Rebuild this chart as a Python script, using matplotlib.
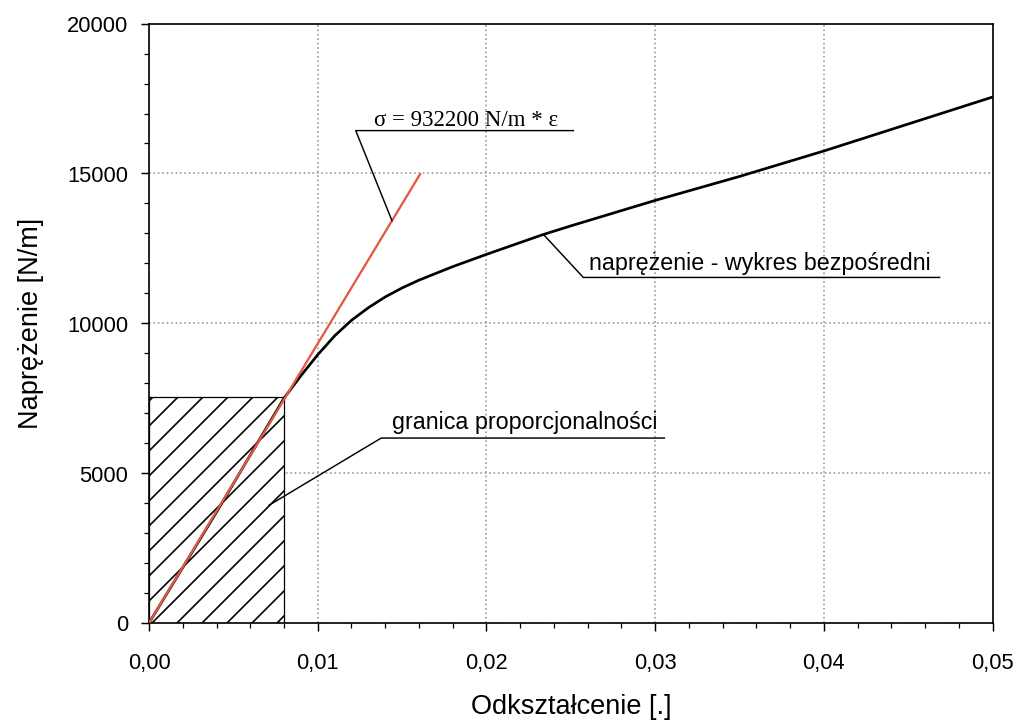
import matplotlib
matplotlib.use("Agg")
import matplotlib.pyplot as plt
from matplotlib.patches import Rectangle
from matplotlib.ticker import MultipleLocator, FuncFormatter

# measured stress-strain curve (direct plot)
strain = [0.0, 0.002, 0.004, 0.006, 0.008, 0.009, 0.010, 0.011, 0.012, 0.013,
          0.014, 0.015, 0.016, 0.018, 0.020, 0.0233, 0.025, 0.030, 0.035,
          0.040, 0.045, 0.050]
stress = [0, 1850, 3700, 5600, 7500, 8250, 8950, 9580, 10100, 10520,
          10880, 11180, 11440, 11890, 12300, 12950, 13250, 14100, 14900,
          15750, 16650, 17550]

# linear fit  sigma = E * eps
E_MOD = 932200
fit_strain = [0.0, 0.0161]
fit_stress = [E_MOD * e for e in fit_strain]

# limit of proportionality
prop_strain = 0.008
prop_stress = 7550

DPI = 150
plt.rcParams['font.family'] = ['Liberation Sans', 'DejaVu Sans']
plt.rcParams['hatch.linewidth'] = 0.8

fig = plt.figure(figsize=(1019.4 / DPI, 723.4 / DPI), dpi=DPI)
ax = fig.add_axes([0.1462, 0.1383, 0.8275, 0.8285])

ax.set_xlim(0, 0.05)
ax.set_ylim(0, 20000)

# hatched region below the proportionality limit
ax.add_patch(Rectangle((0, 0), prop_strain, prop_stress, facecolor='white',
                       edgecolor='black', hatch='//', linewidth=0.6, zorder=2))

ax.plot(strain, stress, color='black', lw=1.3, zorder=3)
ax.plot(fit_strain, fit_stress, color='#e25a43', lw=1.1, zorder=4,
        solid_capstyle='butt')

# callouts: leader point -> underline start -> underline end
lead_kw = dict(color='black', lw=0.7, zorder=5)

ax.plot([0.0144, 0.01225, 0.02515], [E_MOD * 0.0144, 16430, 16430], **lead_kw)
ax.text(0.0188, 16600, 'σ = 932200 N/m * ε', ha='center', va='baseline',
        fontsize=11, family=['Liberation Serif', 'DejaVu Serif'])

ax.plot([0.0234, 0.02574, 0.04686], [12950, 11530, 11530], **lead_kw)
ax.text(0.0261, 11800, 'naprężenie - wykres bezpośredni', ha='left',
        va='baseline', fontsize=11.2)

ax.plot([0.00712, 0.01376, 0.03055], [3930, 6170, 6170], **lead_kw)
ax.text(0.0144, 6500, 'granica proporcjonalności', ha='left',
        va='baseline', fontsize=11.2)

# axes styling
ax.xaxis.set_major_locator(MultipleLocator(0.01))
ax.xaxis.set_minor_locator(MultipleLocator(0.002))
ax.yaxis.set_major_locator(MultipleLocator(5000))
ax.yaxis.set_minor_locator(MultipleLocator(1000))
ax.xaxis.set_major_formatter(FuncFormatter(lambda v, p: f"{v:.2f}".replace('.', ',')))
ax.yaxis.set_major_formatter(FuncFormatter(lambda v, p: f"{v:.0f}"))

ax.tick_params(which='major', direction='out', length=4, width=0.7,
               labelsize=10.5)
ax.tick_params(which='minor', direction='out', length=2.3, width=0.6)
ax.tick_params(axis='x', which='major', pad=10)
ax.tick_params(axis='y', which='major', pad=6)

ax.grid(True, which='major', color='#9a9a9a', linestyle=':', linewidth=0.8)
ax.set_axisbelow(True)
for s in ax.spines.values():
    s.set_linewidth(0.8)
    s.set_color('black')

ax.set_xlabel('Odkształcenie [.]', fontsize=13, labelpad=10)
ax.set_ylabel('Naprężenie [N/m]', fontsize=13, labelpad=11)

fig.savefig('out.png', dpi=DPI, facecolor='white')
